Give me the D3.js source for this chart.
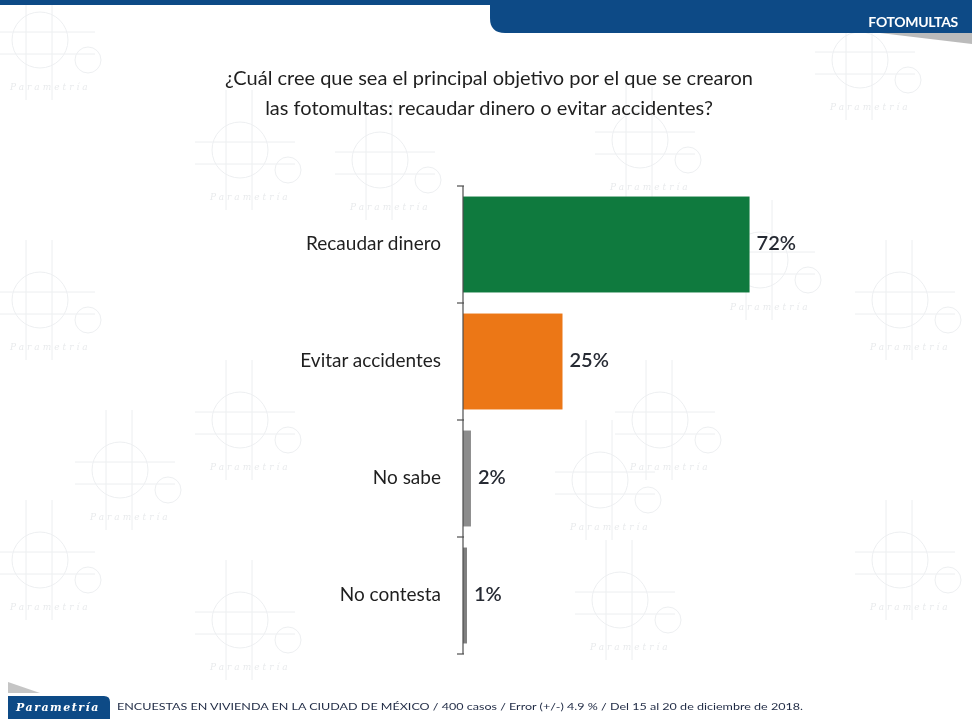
<!DOCTYPE html>
<html>
<head>
<meta charset="utf-8">
<script src="https://cdn.jsdelivr.net/npm/d3@7"></script>
<style>
  html, body { margin: 0; padding: 0; background: #ffffff; }
  svg { display: block; }
</style>
</head>
<body>
<svg id="chart" width="972" height="719"></svg>
<script>
// Survey answers and their shares (%)
const categories = ["Recaudar dinero", "Evitar accidentes", "No sabe", "No contesta"];
const values = [72, 25, 2, 1];
const valueLabels = ["72%", "25%", "2%", "1%"];
const barColors = ["#0f7a3e", "#ec7716", "#8c8c8c", "#7f7f7f"];

const titleLines = [
  "¿Cuál cree que sea el principal objetivo por el que se crearon",
  "las fotomultas: recaudar dinero o evitar accidentes?"
];
const sectionName = "FOTOMULTAS";
const footerText = "ENCUESTAS EN VIVIENDA EN LA CIUDAD DE MÉXICO / 400 casos / Error (+/-) 4.9 % / Del 15 al 20 de diciembre de 2018.";

const W = 972, H = 719;
const svg = d3.select("#chart");
const font = "Lato, 'Open Sans', sans-serif";

// ---- faint background motif (compass circles, crosshairs, brand text) ----
const bg = svg.append("g").attr("opacity", 0.18).attr("stroke", "#9aa4b0").attr("fill", "none");
const motifs = [[40, 40], [240, 150], [380, 160], [640, 140], [860, 60], [40, 300], [240, 420], [600, 480],
                [660, 420], [900, 300], [40, 560], [240, 620], [620, 600], [900, 560], [760, 260], [120, 470]];
motifs.forEach(([cx, cy]) => {
  const m = bg.append("g").attr("transform", `translate(${cx},${cy})`);
  m.append("circle").attr("r", 28).attr("stroke-width", 1);
  m.append("circle").attr("cx", 48).attr("cy", 20).attr("r", 13).attr("stroke-width", 1);
  m.append("line").attr("x1", -45).attr("x2", 55).attr("y1", -8).attr("y2", -8);
  m.append("line").attr("x1", -45).attr("x2", 55).attr("y1", 14).attr("y2", 14);
  m.append("line").attr("x1", -14).attr("x2", -14).attr("y1", -60).attr("y2", 60);
  m.append("line").attr("x1", 12).attr("x2", 12).attr("y1", -60).attr("y2", 60);
  m.append("text").attr("x", -30).attr("y", 50).attr("fill", "#7d8894").attr("stroke", "none")
    .attr("font-family", "'DejaVu Serif', serif").attr("font-style", "italic")
    .attr("font-size", 9).attr("letter-spacing", 3).text("Parametría");
});

// ---- header band ----
svg.append("rect").attr("x", 0).attr("y", 0).attr("width", W).attr("height", 5).attr("fill", "#0d4a86");
svg.append("path")
  .attr("d", `M490,0 H${W} V33 H505 Q490,33 490,18 Z`)
  .attr("fill", "#0d4a86");
svg.append("path")
  .attr("d", `M880,33 H${W} V44 Z`).attr("fill", "#9e9e9e").attr("opacity", 0.7);
svg.append("text")
  .attr("x", 958).attr("y", 27).attr("text-anchor", "end")
  .attr("font-family", font).attr("font-weight", 700).attr("font-size", 14)
  .attr("letter-spacing", -0.3)
  .attr("fill", "#ffffff").text(sectionName);

// ---- title ----
svg.append("g").selectAll("text").data(titleLines).join("text")
  .attr("x", 489).attr("y", (d, i) => 85 + i * 30)
  .attr("text-anchor", "middle")
  .attr("font-family", font).attr("font-size", 20).attr("fill", "#1f1f1f")
  .text(d => d);

// ---- chart ----
const axisX = 463;
const x = d3.scaleLinear().domain([0, 100]).range([axisX, axisX + 398]);
const y = d3.scaleBand().domain(categories).range([186, 654]).paddingInner(0.18).paddingOuter(0.09);
const step = y.step();

const g = svg.append("g");

g.selectAll("rect.bar").data(categories).join("rect")
  .attr("class", "bar")
  .attr("x", x(0))
  .attr("y", d => y(d))
  .attr("width", (d, i) => x(values[i]) - x(0))
  .attr("height", y.bandwidth())
  .attr("fill", (d, i) => barColors[i]);

// category axis with ticks on band boundaries
const boundaries = categories.map(c => y(c) - step * 0.09).concat([654]);
g.append("line").attr("x1", axisX).attr("x2", axisX).attr("y1", 186).attr("y2", 654)
  .attr("stroke", "#4d4d4d").attr("stroke-width", 1.2);
g.selectAll("line.tick").data(boundaries).join("line")
  .attr("class", "tick")
  .attr("x1", axisX - 6).attr("x2", axisX + 1)
  .attr("y1", d => d).attr("y2", d => d)
  .attr("stroke", "#4d4d4d").attr("stroke-width", 1.2);

g.selectAll("text.cat").data(categories).join("text")
  .attr("class", "cat")
  .attr("x", 441)
  .attr("y", d => y(d) + y.bandwidth() / 2 - 1)
  .attr("dy", "0.35em")
  .attr("text-anchor", "end")
  .attr("font-family", font).attr("font-size", 19).attr("fill", "#1f1f1f")
  .text(d => d);

g.selectAll("text.val").data(categories).join("text")
  .attr("class", "val")
  .attr("x", (d, i) => x(values[i]) + 7)
  .attr("y", d => y(d) + y.bandwidth() / 2 - 2)
  .attr("dy", "0.35em")
  .attr("font-family", font).attr("font-size", 20).attr("font-weight", 600).attr("fill", "#262a33")
  .text((d, i) => valueLabels[i]);

// ---- footer ----
svg.append("path").attr("d", "M8,696 H104 Q110,696 110,702 V719 H8 Z").attr("fill", "#0d4a86");
svg.append("path").attr("d", "M8,682 L40,693 L8,693 Z").attr("fill", "#9e9e9e").attr("opacity", 0.6);
svg.append("text").attr("x", 58).attr("y", 711).attr("text-anchor", "middle")
  .attr("font-family", "'DejaVu Serif', serif").attr("font-style", "italic").attr("font-weight", 700)
  .attr("font-size", 11).attr("letter-spacing", 1.5).attr("fill", "#ffffff").text("Parametría");
svg.append("text").attr("x", 117).attr("y", 710)
  .attr("font-family", font).attr("font-size", 9.5).attr("fill", "#1f2a44")
  .attr("textLength", 686).attr("lengthAdjust", "spacingAndGlyphs")
  .text(footerText);
</script>
</body>
</html>
